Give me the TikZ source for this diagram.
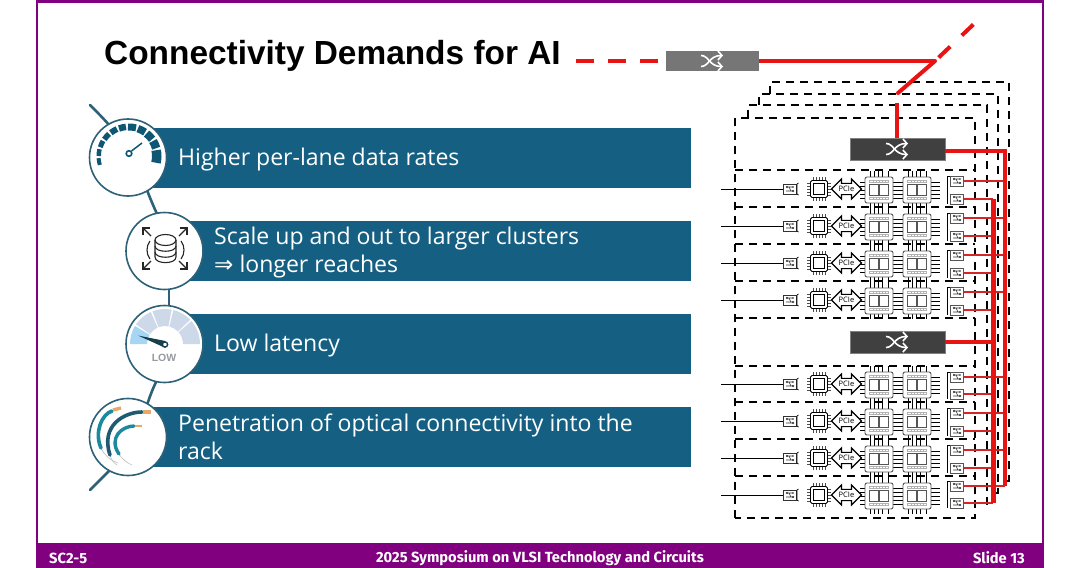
\documentclass[tikz,border=0pt]{standalone}
\usepackage{fontspec}
\setmainfont{Open Sans}
\newfontfamily\titlefont{Liberation Sans}
\newfontfamily\footfont{Fira Sans}
\newfontfamily\symfont{DejaVu Sans}
\usetikzlibrary{calc,shapes.arrows,arrows.meta}
\definecolor{slidepurple}{HTML}{800080}
\definecolor{barblue}{HTML}{156082}
\definecolor{ringblue}{HTML}{2D6178}
\definecolor{gaugeblue}{HTML}{0F5574}
\definecolor{linkred}{HTML}{E81414}
\definecolor{thinred}{HTML}{D42626}
\definecolor{swdark}{HTML}{404040}
\definecolor{swgray}{HTML}{767676}
\definecolor{chipgray}{HTML}{555555}
\definecolor{softblue}{HTML}{CDD8E8}
\definecolor{skyblue}{HTML}{A6D6F4}
\definecolor{cableteal}{HTML}{1A8A9E}
\definecolor{cabledark}{HTML}{1F5A70}
\definecolor{cableorange}{HTML}{E8A868}
\tikzset{
  ring/.style={circle,draw=ringblue,line width=1.6pt,fill=white,minimum size=77pt,inner sep=0pt},
  stem/.style={draw=ringblue,line width=2.6pt,line cap=round},
  bartext/.style={text=white,anchor=west,font=\fontsize{23.05}{28}\selectfont,align=left,inner sep=0pt},
  rackdash/.style={draw=black,line width=1.7pt,dash pattern=on 8pt off 6pt},
  swbox/.style={fill=swdark,draw=gray,line width=.6pt,minimum width=95pt,minimum height=22pt,inner sep=0pt},
  swtop/.style={fill=swgray,draw=none,minimum width=93pt,minimum height=20pt,inner sep=0pt},
  shufline/.style={draw=white,line width=1.6pt,-{Straight Barb[length=4pt,width=9pt]}},
  mainred/.style={draw=linkred,line width=4pt},
  thinlink/.style={draw=thinred,line width=1.4pt},
  xcvr/.style={draw=black!80,fill=white,line width=.8pt,minimum width=13pt,minimum height=10pt,inner sep=0pt},
  smallchip/.style={draw=black,fill=white,line width=.8pt,rounded corners=1.5pt,minimum size=17pt,inner sep=0pt},
  bigchip/.style={draw=chipgray,fill=white,line width=.9pt,rounded corners=2pt,minimum width=28pt,minimum height=26pt,inner sep=0pt},
  pcie/.style={double arrow,draw=black,fill=white,line width=1.1pt,minimum height=30pt,minimum width=20pt,double arrow head extend=2.5pt,inner sep=0pt,font=\fontsize{7.5}{7.5}\selectfont},
  pin/.style={draw=black,line width=.7pt},
  footer/.style={text=white,font=\footfont\bfseries\fontsize{14.7}{16}\selectfont,inner sep=0pt},
}
\newcommand{\shufglyph}[2]{%
  \draw[shufline] (#1-11,#2-5.5) .. controls (#1-3,#2-5.5) and (#1-3,#2+5.5) .. (#1+11,#2+5.5);
  \draw[shufline] (#1-11,#2+5.5) .. controls (#1-3,#2+5.5) and (#1-3,#2-5.5) .. (#1+11,#2-5.5);
}
\newcommand{\xcvrglyph}[2]{%
  \draw[black!80,line width=.6pt] (#1-4,#2-2) -- (#1+3,#2-2) (#1-4,#2+2) -- (#1+4,#2+2) (#1-1,#2-2) -- (#1+1,#2+2);
  \fill[black!80] (#1-3,#2-2) circle (1.1) (#1+3,#2+2) circle (1.1) (#1+3,#2-2) circle (.9);
}
\begin{document}
\begin{tikzpicture}[x=1pt,y=-1pt]
\useasboundingbox (0,0) rectangle (1080,568);
\fill[white] (0,0) rectangle (1080,568);
% frame
\fill[slidepurple] (36,0) rectangle (1044,3);
\fill[slidepurple] (36,0) rectangle (38,543);
\fill[slidepurple] (1042,0) rectangle (1044,543);
\fill[slidepurple] (36,543) rectangle (1044,568);
\node[footer,anchor=west] (ftl) at (49,558) {SC2-5};
\node[footer] (ftc) at (540,558) {2025 Symposium on VLSI Technology and Circuits};
\node[footer,anchor=east] (ftr) at (1025,558) {Slide 13};
% title
\node[anchor=west,inner sep=0pt,font=\titlefont\bfseries\fontsize{33.4}{38}\selectfont] (title) at (104,56) {Connectivity Demands for AI};
% stems
\coordinate (st0) at (90,105);
\coordinate (st5) at (90,490);
\draw[stem] (st0) .. controls (97,112) and (103,118) .. (110,126);
\draw[stem] (147,190) .. controls (150,198) and (153,205) .. (157,214);
\draw[stem] (169,288) -- (169,307);
\draw[stem] (157,380) .. controls (153,388) and (150,396) .. (147,405);
\draw[stem] (st5) .. controls (97,483) and (103,477) .. (110,470);
% bars
\fill[barblue] (150,128) rectangle (691,188);
\fill[barblue] (190,221) rectangle (691,281);
\fill[barblue] (190,314) rectangle (691,374);
\fill[barblue] (150,407) rectangle (691,467);
\node[bartext] (t1) at (178,159.5) {Higher per-lane data rates};
\node[bartext] (t2a) at (214,238.5) {Scale up and out to larger clusters};
\node[bartext] (t2b) at (214,266.5) {{\symfont ⇒} longer reaches};
\node[bartext] (t3) at (214,346) {Low latency};
\node[bartext] (t4a) at (178,425.5) {Penetration of optical connectivity into the};
\node[bartext] (t4b) at (178,451) {rack};
% circles
\node[ring] (c1) at (128,157.5) {};
\node[ring] (c2) at (164.5,251) {};
\node[ring] (c3) at (164.5,344) {};
\node[ring] (c4) at (128,437) {};
% gauge 1
\begin{scope}[shift={(129,156)},yscale=-1]
\foreach \a/\b/\w in {197/184/4,180/167/4.5,163/150/5,146/132/5.5,128/114/6,110/96/6.5,92/76/7,72/56/7.5,52/36/8,32/16/8.5,12/-14/9.5}{
  \pgfmathsetmacro{\rr}{32.5-\w/2}
  \draw[gaugeblue,line width=\w pt] (\a:\rr) arc[start angle=\a,end angle=\b,radius=\rr];
}
\end{scope}
\draw[gaugeblue,line width=1.5pt] (131.5,151) -- (142,143);
\draw[gaugeblue,line width=1.6pt,fill=white] (129,153.5) circle (2.8);
% database icon
\begin{scope}[draw=black!85,line width=1.1pt]
  \draw (155,240) -- (155,257) .. controls (155,264.5) and (176,264.5) .. (176,257) -- (176,240);
  \draw (165.5,240) ellipse[x radius=10.5,y radius=5.5];
  \draw (155,246) .. controls (155,253) and (176,253) .. (176,246);
  \draw (155,252) .. controls (155,259) and (176,259) .. (176,252);
  \draw (150,241) .. controls (146,246) and (146,254) .. (150,259);
  \draw (181,241) .. controls (185,246) and (185,254) .. (181,259);
  \draw (143,235) -- (143,228) -- (150,228);
  \draw (143,228) -- (151,236);
  \draw (187,235) -- (187,228) -- (180,228);
  \draw (187,228) -- (179,236);
  \draw (143,262) -- (143,269) -- (150,269);
  \draw (143,269) -- (151,261);
  \draw (187,262) -- (187,269) -- (180,269);
  \draw (187,269) -- (179,261);
\end{scope}
% gauge 3
\begin{scope}[shift={(165,344)},yscale=-1]
\fill[skyblue] (180:35) arc[start angle=180,end angle=149,radius=35] -- (149:18) arc[start angle=149,end angle=180,radius=18] -- cycle;
\foreach \a/\b in {146/114,111/79,76/44,41/0}{
  \fill[softblue] (\a:35) arc[start angle=\a,end angle=\b,radius=35] -- (\b:18) arc[start angle=\b,end angle=\a,radius=18] -- cycle;
}
\end{scope}
\fill[cabledark!70!black] (138,335.5) -- (165.5,341) -- (164.5,347.5) -- cycle;
\draw[cabledark!70!black,line width=1.4pt,fill=white] (165,344.5) circle (2.6);
\node[inner sep=0pt,text=gray!70!softblue,font=\titlefont\bfseries\fontsize{10.5}{10}\selectfont] (low) at (164,357.5) {LOW};
% gauge 4 cables
\draw[gray!50,line width=.6pt] (101,448) .. controls (104,455) and (110,460) .. (118,463);
\draw[cableteal,line width=3.6pt,line cap=round] (112,411) .. controls (102,414) and (94,432) .. (101,448);
\draw[gray!50,line width=.6pt] (110,455) .. controls (111,460) and (114,463) .. (117,465);
\draw[cabledark,line width=3.6pt,line cap=round] (142,412) .. controls (125,412) and (100,425) .. (110,455);
\draw[gray!50,line width=.6pt] (119,454) .. controls (122,459) and (127,463) .. (132,465);
\draw[cableteal,line width=3.4pt,line cap=round] (134,426) .. controls (122,426) and (108,438) .. (119,454);
\draw[cableorange,line width=3.4pt] (113,410) -- (121,408);
\draw[cableorange,line width=3.4pt] (143,412) -- (151,412);
\draw[cableorange,line width=2.8pt] (135,426) -- (142,426);
% rack outline
\draw[rackdash] (770,94) -- (770,82) -- (1009,82) -- (1009,481) -- (1003,481);
\draw[rackdash] (759,105) -- (759,94) -- (998,94) -- (998,493) -- (990,493);
\draw[rackdash] (748,118) -- (748,105) -- (987,105) -- (987,505);
\draw[rackdash] (735,518) -- (735,118) -- (975,118) -- (975,518) -- cycle;
\foreach \ya in {170,207,244,281,318,366,402,439,476}{
  \draw[rackdash] (735,\ya) -- (975,\ya);
}
% rows
\foreach \n/\y/\ua/\ub in {1/189/181/199,2/226/218/236,3/263/255/273,4/300/292/310,5/384/377/394,6/421/413/431,7/458/450/468,8/495/486/503}{
  \begin{scope}[shift={(0,\y)}]
    \foreach \d in {-8,-4,0,4,8}{
      \draw[pin] (860,\d+1) -- (865,\d+1);
      \draw[pin] (893,\d+1) -- (903,\d+1);
      \draw[pin] (931,\d+1) -- (940,\d+1);
    }
    \foreach \d in {-9,-5,-1,3,9}{
      \draw[pin,line width=.9pt] (879+\d,-18) -- (879+\d,-12);
      \draw[pin,line width=.9pt] (879+\d,14) -- (879+\d,19);
      \draw[pin,line width=.9pt] (917+\d,-18) -- (917+\d,-12);
      \draw[pin,line width=.9pt] (917+\d,14) -- (917+\d,19);
    }
    \foreach \d in {-6,-3,0,3,6}{
      \draw[pin,line width=.5pt,draw=black!70] (819+\d,-12) -- (819+\d,12);
      \draw[pin,line width=.5pt,draw=black!70] (807,\d) -- (831,\d);
    }
  \end{scope}
  \coordinate (in\n) at (721,\y);
  \node[xcvr] (tl\n) at (790,\y) {};
  \draw[black,line width=1pt] (in\n) -- (tl\n);
  \draw[black,line width=.7pt] (798.5,\y-6) -- (797,\y-5) -- (797,\y+5) -- (798.5,\y+6);
  \xcvrglyph{790}{\y}
  \node[smallchip] (sc\n) at (819,\y) {};
  \node[draw=black,fill=white,line width=.9pt,minimum size=11pt,inner sep=0pt] (sq\n) at (819,\y) {};
  \node[pcie] (pc\n) at (846.5,\y) {PCIe};
  \node[bigchip] (ba\n) at (879,\y+1) {};
  \node[bigchip] (bb\n) at (917,\y+1) {};
  \foreach \cx in {879,917}{
    \draw[chipgray,line width=.7pt] (\cx-9.5,\y-4.5) rectangle (\cx-.5,\y+6);
    \draw[chipgray,line width=.7pt] (\cx+.5,\y-4.5) rectangle (\cx+9.5,\y+6);
    \draw[gray!60,line width=.5pt] (\cx-9.5,\y-9) rectangle (\cx+9.5,\y-6.5);
    \draw[gray!60,line width=.5pt] (\cx-9.5,\y+8) rectangle (\cx+9.5,\y+10.5);
    \foreach \k in {-6,-3,0,3,6}{
      \draw[gray!60,line width=.4pt] (\cx+\k,\y-9) -- (\cx+\k,\y-6.5);
      \draw[gray!60,line width=.4pt] (\cx+\k,\y+8) -- (\cx+\k,\y+10.5);
    }
  }
  \node[xcvr,draw=chipgray] (tu\n) at (957,\ua) {};
  \node[xcvr,draw=chipgray] (tv\n) at (957,\ub) {};
  \draw[black,line width=.7pt] (950,\ua-5) -- (947.5,\ua-5) -- (947.5,\ub+5);
  \xcvrglyph{957}{\ua}
  \xcvrglyph{957}{\ub}
  \coordinate (ju\n) at (1005,\ua);
  \coordinate (jv\n) at (993,\ub);
  \draw[thinlink] (tu\n) -- (ju\n);
  \draw[thinlink] (tv\n) -- (jv\n);
}
% switches and red links
\node[swtop] (sw0) at (712.5,61) {};
\node[swbox] (sw1) at (897.5,149) {};
\node[swbox] (sw2) at (897.5,342) {};
\shufglyph{712}{61}
\shufglyph{897}{149}
\shufglyph{897}{342}
\coordinate (dashin) at (576,61);
\coordinate (dashout) at (977,21);
\coordinate (kink) at (935,61);
\coordinate (kinkb) at (898,93);
\coordinate (upin) at (897,103);
\coordinate (trunkA) at (1005,151);
\coordinate (trunkB) at (993,342);
\draw[linkred,line width=4pt,dash pattern=on 18pt off 14pt] (dashin) -- (sw0.west);
\draw[mainred] (sw0.east) -- (kink);
\draw[mainred,line cap=round] (kink) -- (kinkb);
\draw[linkred,line width=4pt,dash pattern=on 0pt off 5pt on 16pt off 11pt] (kink) -- (dashout);
\draw[mainred] (upin) -- (sw1.north -| upin);
\draw[mainred] (sw1.east |- trunkA) -- (trunkA) -- (ju8);
\draw[linkred,line width=5pt] (993,199) -- (jv8);
\draw[mainred] (sw2.east) -- (trunkB);
\end{tikzpicture}
\end{document}
